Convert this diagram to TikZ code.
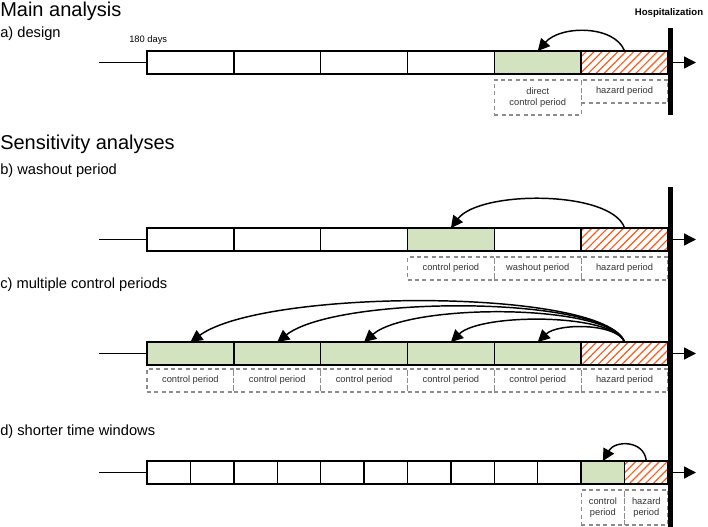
\documentclass[tikz,border=0pt]{standalone}
\usepackage{fontspec}
\setmainfont{Liberation Sans}
\usetikzlibrary{arrows.meta,patterns.meta}
\definecolor{ctrlgreen}{HTML}{D3E3BF}
\definecolor{hatchorange}{HTML}{FF5A1A}
\definecolor{dashgray}{HTML}{8C8C8C}
\definecolor{labtext}{HTML}{333333}
\begin{document}
\begin{tikzpicture}[x=0.75pt,y=-0.75pt,
  cell/.style={draw, line width=1.1pt, minimum width=65.125pt, minimum height=17.25pt, inner sep=0pt, outer sep=0pt, anchor=north west},
  smallcell/.style={cell, minimum width=32.5625pt},
  ctrl/.style={fill=ctrlgreen},
  haz/.style={pattern={Lines[angle=45,distance=4.2pt,line width=0.9pt]}, pattern color=hatchorange},
  lab/.style={draw=dashgray, dash pattern=on 3pt off 2.5pt, line width=0.8pt, inner sep=0pt, outer sep=0pt, anchor=north west, font=\fontsize{7}{8.5}\selectfont, align=center, text=labtext, minimum width=65.125pt, minimum height=17.25pt},
  tall/.style={minimum height=26.25pt},
  smalllab/.style={minimum width=32.5625pt},
  curv/.style={line width=1.1pt, -{Triangle[length=9pt,width=9pt]}},
  exitarr/.style={line width=1.1pt, -{Triangle[length=9pt,width=9pt]}},
  lead/.style={line width=1.1pt},
  bar/.style={line width=3.75pt},
  title/.style={anchor=base west, inner sep=0pt, font=\fontsize{15}{18}\selectfont},
  sub/.style={anchor=base west, inner sep=0pt, font=\fontsize{11}{13}\selectfont},
  note/.style={inner sep=0pt, font=\fontsize{7}{8.5}\selectfont}
]
\useasboundingbox (0,0) rectangle (708,527);

% titles
\node[title] (t1) at (0,17) {Main analysis};
\node[sub] (t2) at (0,38) {a) design};
\node[title] (t3) at (0,150) {Sensitivity analyses};
\node[sub] (t4) at (0,175) {b) washout period};
\node[sub] (t5) at (0,289) {c) multiple control periods};
\node[sub] (t6) at (0,436) {d) shorter time windows};
\node[note, anchor=base west] (days) at (129,43) {180 days};
\node[note, anchor=base, font=\fontsize{7.2}{8.5}\selectfont\bfseries] (hosp) at (669,16) {Hospitalization};

% ---------- row a ----------
\foreach \i in {1,...,4} \node[cell] (a\i) at ({147+(\i-1)*86.833},51) {};
\node[cell, ctrl] (a5) at (494.33,51) {};
\node[cell, haz] (a6) at (581.17,51) {};
\node[lab, tall] (la5) at (494.33,80) {direct\\control period};
\node[lab] (la6) at (581.17,80) {hazard period};
\coordinate (ain) at (99,62.5);
\draw[lead] (ain) -- (a1.west);
\draw[curv] (a6.north) .. controls +(-10,-26) and +(23,-26) .. (a5.north);

% ---------- row b ----------
\foreach \i in {1,2,3,5} \node[cell] (b\i) at ({147+(\i-1)*86.833},228) {};
\node[cell, ctrl] (b4) at (407.5,228) {};
\node[cell, haz] (b6) at (581.17,228) {};
\node[lab] (lb4) at (407.5,257) {control period};
\node[lab] (lb5) at (494.33,257) {washout period};
\node[lab] (lb6) at (581.17,257) {hazard period};
\coordinate (bin) at (99,239.5);
\draw[lead] (bin) -- (b1.west);
\draw[curv] (b6.north) .. controls +(-13,-38) and +(29,-38) .. (b4.north);

% ---------- row c ----------
\foreach \i in {1,...,5} {
  \node[cell, ctrl] (c\i) at ({147+(\i-1)*86.833},342) {};
  \node[lab] (lc\i) at ({147+(\i-1)*86.833},369) {control period};
}
\node[cell, haz] (c6) at (581.17,342) {};
\node[lab] (lc6) at (581.17,369) {hazard period};
\coordinate (cin) at (99,353.5);
\draw[lead] (cin) -- (c1.west);
\draw[curv] (c6.north) .. controls +(-8,-19) and +(20,-19) .. (c5.north);
\draw[curv] (c6.north) .. controls +(-12,-29) and +(30,-29) .. (c4.north);
\draw[curv] (c6.north) .. controls +(-15,-39) and +(45,-39) .. (c3.north);
\draw[curv] (c6.north) .. controls +(-18,-47) and +(60,-47) .. (c2.north);
\draw[curv] (c6.north) .. controls +(-20,-54) and +(75,-54) .. (c1.north);

% ---------- row d ----------
\foreach \i in {1,...,10} \node[smallcell] (d\i) at ({147+(\i-1)*43.4167},461) {};
\node[smallcell, ctrl] (d11) at (581.17,461) {};
\node[smallcell, haz] (d12) at (624.58,461) {};
\node[lab, tall, smalllab] (ld11) at (581.17,490) {control\\period};
\node[lab, tall, smalllab] (ld12) at (624.58,490) {hazard\\period};
\coordinate (din) at (99,472.5);
\draw[lead] (din) -- (d1.west);
\draw[curv] (d12.north) .. controls +(-2,-21) and +(12,-21) .. (d11.north);

% ---------- bars and exits ----------
\coordinate (barAtop) at (670,28);
\coordinate (barAbot) at (670,115);
\coordinate (barBtop) at (670,187);
\coordinate (barBbot) at (670,527);
\draw[bar] (barAtop) -- (barAbot);
\draw[bar] (barBtop) -- (barBbot);
\coordinate (aout) at (696,62.5);
\coordinate (bout) at (696,239.5);
\coordinate (cout) at (696,353.5);
\coordinate (dout) at (696,472.5);
\draw[exitarr] (a6.east) -- (aout);
\draw[exitarr] (b6.east) -- (bout);
\draw[exitarr] (c6.east) -- (cout);
\draw[exitarr] (d12.east) -- (dout);
\end{tikzpicture}
\end{document}
